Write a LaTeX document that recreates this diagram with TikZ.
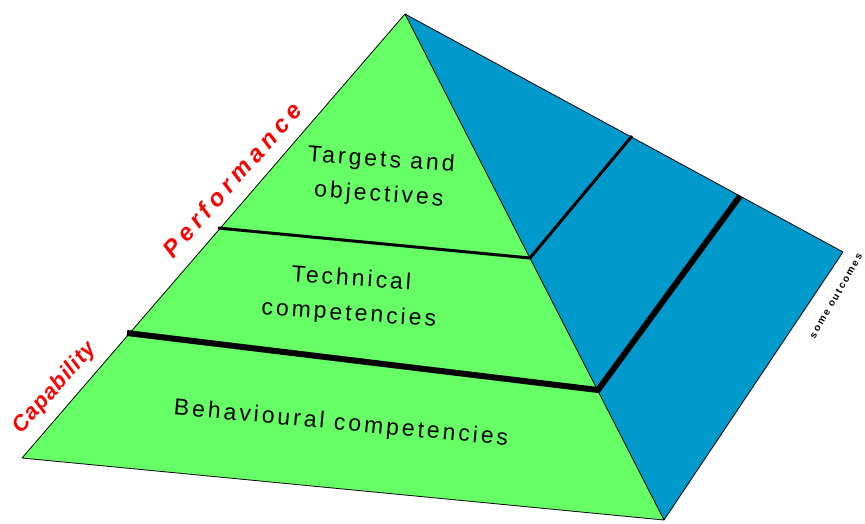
\documentclass[tikz,border=0pt]{standalone}
\usepackage{fontspec}
\setmainfont{Liberation Sans}
\begin{document}
\begin{tikzpicture}[x=1pt,y=-1pt,
  face/.style={draw=black,line width=0.8pt,line join=round},
  thinband/.style={draw=black,line width=3pt},
  thickband/.style={draw=black,line width=6pt},
  label/.style={font=\fontsize{23}{35}\selectfont\addfontfeature{LetterSpace=13},align=center,text=black},
  side/.style={text=red}]
\useasboundingbox (0,0) rectangle (865,523);
\definecolor{pgreen}{HTML}{66FF66}
\definecolor{pblue}{HTML}{0099CC}
\coordinate (apex) at (405,14);
\coordinate (lb) at (22,458);
\coordinate (fb) at (664,520);
\coordinate (rb) at (843,252);
\coordinate (l1) at (218,228);
\coordinate (f1) at (530,258);
\coordinate (l2) at (127,333);
\coordinate (f2) at (598,390);
\coordinate (t1) at (632,136);
\coordinate (t2) at (740,196);
\fill[pgreen] (apex) -- (lb) -- (fb) -- cycle;
\fill[pblue] (apex) -- (fb) -- (rb) -- cycle;
\draw[face] (apex) -- (lb) -- (fb) -- (rb) -- cycle;
\draw[face] (apex) -- (fb);
\draw[thinband] (l1) -- (f1) -- (t1);
\draw[thickband] (l2) -- (f2) -- (t2);
\node[label,rotate=-4] (tg) at (380,178) {Targets and\\objectives};
\node[label,rotate=-4] (tc) at (350,297) {Technical\\competencies};
\node[label,rotate=-5.3] (bc) at (341,424) {Behavioural competencies};
\node[side,rotate=48.5,font=\fontsize{22}{24}\selectfont\bfseries\itshape\addfontfeature{LetterSpace=4}] (cap) at (55,388) {Capability};
\node[side,rotate=48.5,font=\fontsize{24}{26}\selectfont\bfseries\itshape\addfontfeature{LetterSpace=21}] (perf) at (232,180) {Performance};
\node[font=\fontsize{10}{12}\selectfont\bfseries\addfontfeature{LetterSpace=18},rotate=60,inner sep=0pt] (so) at (836,296) {some outcomes};
\end{tikzpicture}
\end{document}
